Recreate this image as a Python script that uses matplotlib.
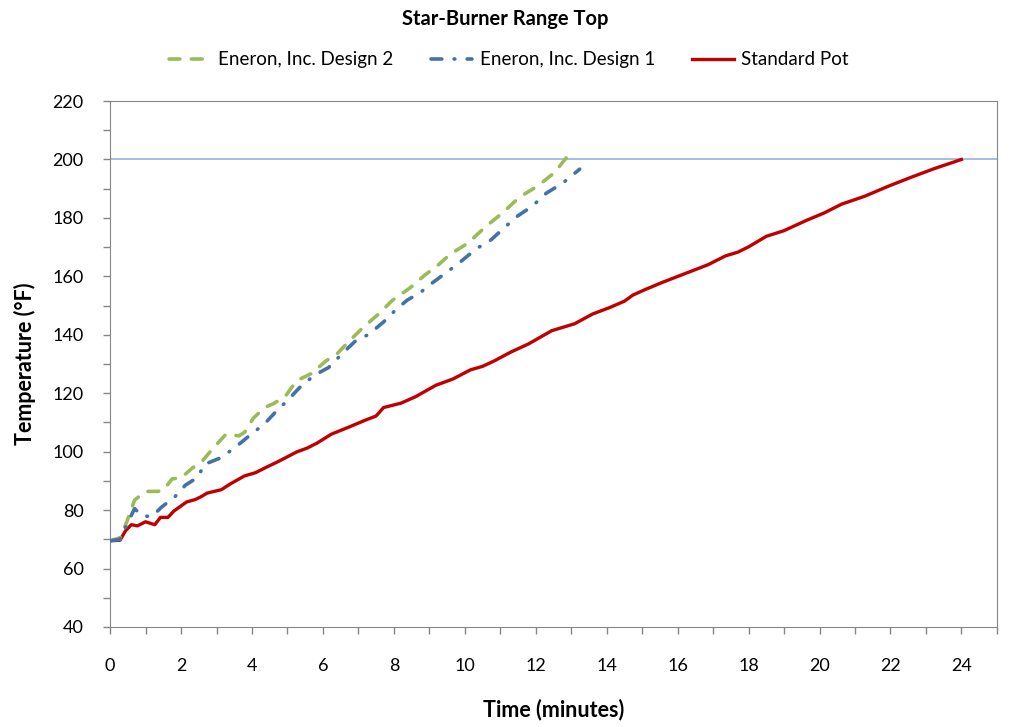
import matplotlib.pyplot as plt
from matplotlib.ticker import MultipleLocator

plt.rcParams['font.family'] = ['Lato', 'DejaVu Sans']

# Standard pot (minutes, deg F)
pot_t = [0, 0.28, 0.44, 0.6, 0.77, 1.0, 1.26, 1.42, 1.63, 1.8, 2.16, 2.4, 2.57, 2.73,
         3.14, 3.38, 3.79, 4.1, 4.36, 4.77, 5.26, 5.55, 5.83, 6.24, 6.73, 7.22, 7.5,
         7.71, 8.2, 8.61, 9.18, 9.67, 10.16, 10.5, 10.82, 11.3, 11.8, 12.45, 13.1,
         13.6, 14.08, 14.5, 14.74, 15.07, 15.56, 16.2, 16.86, 17.35, 17.7, 18.0, 18.5,
         18.99, 19.64, 20.13, 20.62, 21.27, 21.93, 22.58, 23.24, 24.0]
pot_f = [69.5, 69.7, 73.0, 75.0, 74.6, 76.0, 75.0, 77.5, 77.5, 79.7, 82.8, 83.6, 84.6, 85.8,
         87.0, 88.9, 91.7, 92.8, 94.4, 96.8, 99.9, 101.2, 102.9, 106.0, 108.4, 110.9, 112.2,
         115.1, 116.6, 118.8, 122.7, 124.9, 128.0, 129.2, 131.0, 134.1, 136.9, 141.4, 143.8,
         147.1, 149.3, 151.5, 153.6, 155.4, 157.9, 160.9, 164.0, 167.0, 168.3, 170.1, 173.7,
         175.6, 179.2, 181.7, 184.7, 187.4, 190.8, 193.9, 196.9, 200.0]

# Eneron, Inc. Design 1
d1_t = [0, 0.28, 0.44, 0.69, 0.9, 1.18, 1.45, 1.83, 2.12, 2.48, 2.65, 3.14, 3.55, 3.92,
        4.36, 4.69, 5.0, 5.34, 5.75, 6.16, 6.5, 6.9, 7.3, 7.71, 8.05, 8.37, 8.75, 9.1,
        9.5, 9.84, 10.33, 10.74, 11.1, 11.47, 11.9, 12.29, 12.78, 13.24]
d1_f = [69.5, 70.0, 74.2, 80.5, 78.0, 77.8, 81.0, 84.6, 88.5, 91.3, 95.6, 98.0, 101.7, 105.4,
        109.6, 113.9, 117.5, 121.9, 126.1, 128.8, 133.0, 137.7, 140.2, 144.4, 148.5, 151.8, 154.5, 157.9,
        161.5, 164.6, 169.5, 172.5, 176.5, 180.5, 184.0, 188.4, 192.1, 196.7]

# Eneron, Inc. Design 2
d2_t = [0, 0.28, 0.44, 0.69, 1.0, 1.34, 1.5, 1.75, 2.0, 2.32, 2.6, 2.9, 3.27, 3.63, 3.79,
        4.04, 4.36, 4.6, 4.93, 5.26, 5.67, 6.08, 6.4, 6.73, 7.14, 7.55, 7.96, 8.45, 8.86,
        9.26, 9.59, 10.08, 10.57, 11.06, 11.55, 12.04, 12.53, 12.94]
d2_f = [69.5, 70.5, 75.0, 83.4, 86.4, 86.4, 86.8, 90.7, 91.0, 94.4, 96.8, 101.1, 106.0, 105.4, 106.6,
        111.5, 115.1, 116.4, 118.8, 124.3, 126.7, 131.0, 133.5, 137.7, 142.6, 146.9, 151.8, 156.0, 160.3,
        164.0, 167.6, 171.3, 176.8, 181.7, 187.2, 190.8, 195.5, 201.8]

target_f = 200

fig = plt.figure(figsize=(10.1, 7.27), dpi=100)
ax = fig.add_axes([0.109, 0.1376, 0.878, 0.7234])

ax.axhline(target_f, color='#8EAADB', lw=1.1, zorder=1)
ax.plot(d2_t, d2_f, color='#9BBB59', lw=2.6, dashes=(3.0, 3.2),
        dash_capstyle='round', label='Eneron, Inc. Design 2', zorder=3)
ax.plot(d1_t, d1_f, color='#4472A8', lw=2.6, dashes=(3.0, 3.4, 0.2, 3.4),
        dash_capstyle='round', label='Eneron, Inc. Design 1', zorder=3)
ax.plot(pot_t, pot_f, color='#C00000', lw=2.4, label='Standard Pot', zorder=2)

ax.set_xlim(0, 25)
ax.set_ylim(40, 220)
ax.xaxis.set_major_locator(MultipleLocator(2))
ax.xaxis.set_minor_locator(MultipleLocator(1))
ax.yaxis.set_major_locator(MultipleLocator(20))
ax.yaxis.set_minor_locator(MultipleLocator(10))
ax.tick_params(which='both', direction='out', length=5, color='#868686', width=1)
ax.tick_params(axis='x', which='major', labelsize=13, pad=17)
ax.tick_params(axis='y', which='major', labelsize=13, pad=14)
for s in ax.spines.values():
    s.set_color('#868686')

ax.set_xlabel('Time (minutes)', fontsize=15.5, fontweight='bold', labelpad=18)
ax.set_ylabel('Temperature (°F)', fontsize=15.5, fontweight='bold', labelpad=12)

fig.suptitle('Star-Burner Range Top', fontsize=14.5, fontweight='bold', y=0.988)
fig.legend(loc='center', bbox_to_anchor=(0.504, 0.918), ncol=3, frameon=False,
           fontsize=13.5, handlelength=2.2, handletextpad=0.4, columnspacing=2.0)

fig.savefig('out.png', dpi=100)
